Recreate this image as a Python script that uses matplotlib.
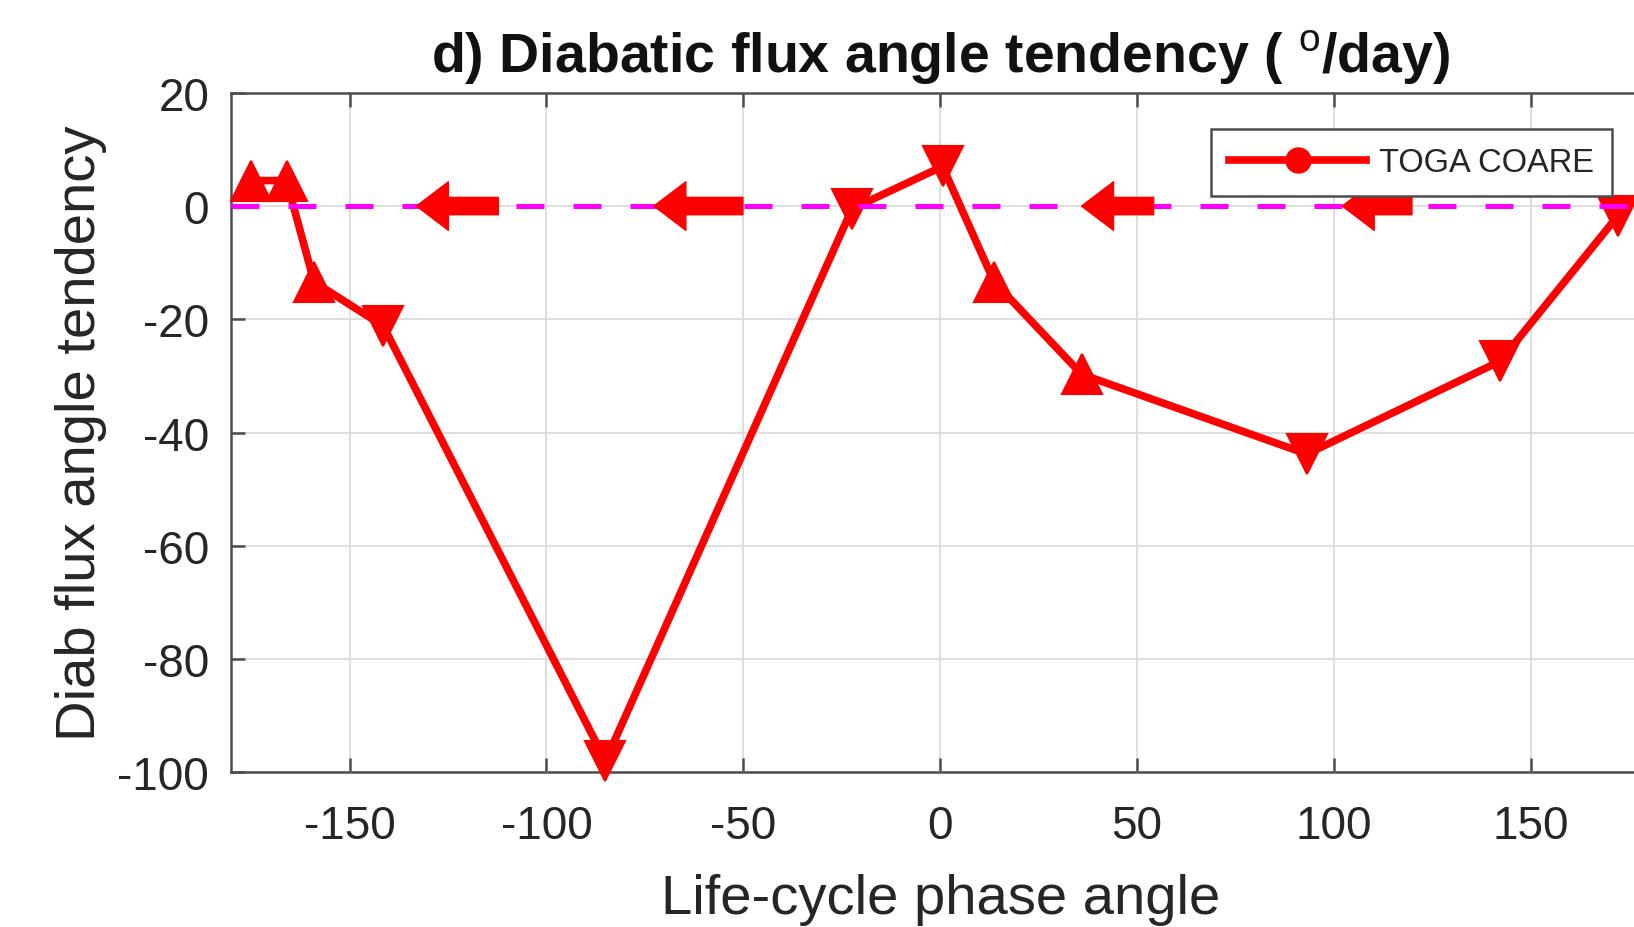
import matplotlib
matplotlib.use("Agg")
import matplotlib.pyplot as plt
from matplotlib.lines import Line2D

plt.rcParams['font.family'] = ['Liberation Sans', 'DejaVu Sans']
plt.rcParams['axes.unicode_minus'] = False
plt.rcParams['mathtext.fontset'] = 'custom'
plt.rcParams['mathtext.rm'] = 'Liberation Sans'
plt.rcParams['mathtext.bf'] = 'Liberation Sans:bold'

# life-cycle phase angle (deg) and diabatic flux angle tendency (deg/day)
phase = [-175, -166, -159, -141.4, -85, -22.4, 0.6, 13.7, 35.9, 93.1, 142.2, 172]
tendency = [4.5, 4.5, -13.4, -21.2, -98, -0.5, 7.0, -13.4, -29.7, -43.8, -27.4, -1.8]
# marker orientation per point: '^' or 'v'
marker_kind = ['^', '^', '^', 'v', 'v', 'v', 'v', '^', '^', 'v', 'v', 'v']

# propagation arrows drawn on the zero line (tail -> head)
arrow_tail = [-112.2, -50.1, 54.2, 119.8]
arrow_head = [-133.0, -72.7, 35.9, 102.1]

x_ticks = [-150, -100, -50, 0, 50, 100, 150]
y_ticks = [-100, -80, -60, -40, -20, 0, 20]

red = '#ff0000'
axis_gray = '#4d4d4d'
text_gray = '#262626'

fig = plt.figure(figsize=(16.34, 9.28), dpi=100)
ax = fig.add_axes([0.1416, 0.1668, 0.8676, 0.7321])

ax.plot(phase, tendency, color=red, lw=5.5, zorder=3, clip_on=False)
for xv, yv, mk in zip(phase, tendency, marker_kind):
    ax.plot(xv, yv, marker=mk, ms=29, color=red, mec=red, mew=1.5, zorder=3, clip_on=False)

ax.axhline(0, color='#ff00ff', lw=3.6, linestyle=(0, (5.6, 5.8)), zorder=4)

for x0, x1 in zip(arrow_tail, arrow_head):
    ax.annotate('', xy=(x1, 0), xytext=(x0, 0),
                arrowprops=dict(arrowstyle='simple,head_length=2.3,head_width=3.5,tail_width=1.25',
                                color=red, shrinkA=0, shrinkB=0, mutation_scale=10),
                zorder=5)

ax.set_xlim(-180, 180)
ax.set_ylim(-100, 20)
ax.set_xticks(x_ticks)
ax.set_yticks(y_ticks)
ax.grid(True, color='#dcdcdc', lw=1.3)
ax.set_axisbelow(True)

for sp in ax.spines.values():
    sp.set_color(axis_gray)
    sp.set_linewidth(1.8)

ax.tick_params(axis='both', direction='in', length=10, width=1.8, color=axis_gray,
               labelsize=33, labelcolor=text_gray, top=True, right=True)
ax.tick_params(axis='x', pad=23)
ax.tick_params(axis='y', pad=16)

ax.set_xlabel('Life-cycle phase angle', fontsize=40.5, color=text_gray)
ax.set_ylabel('Diab flux angle tendency', fontsize=40.5, color=text_gray)
ax.xaxis.set_label_coords(0.5, -0.148)
ax.yaxis.set_label_coords(-0.088, 0.5)

ax.set_title(r'd) Diabatic flux angle tendency ( $^{\mathrm{o}}$/day)',
             fontsize=40, fontweight='bold', color='#111111', pad=16)

handle = Line2D([], [], color=red, lw=5.5, marker='o', ms=18)
leg = ax.legend([handle], ['TOGA COARE'], loc='upper right', bbox_to_anchor=(0.974, 0.9467),
                borderaxespad=0, fontsize=23.5, handlelength=4.2, handletextpad=0.4,
                borderpad=0.55, fancybox=False, framealpha=1)
leg.get_frame().set_edgecolor(axis_gray)
leg.get_frame().set_linewidth(1.8)
for t in leg.get_texts():
    t.set_color(text_gray)

fig.savefig('out.png', dpi=100)
